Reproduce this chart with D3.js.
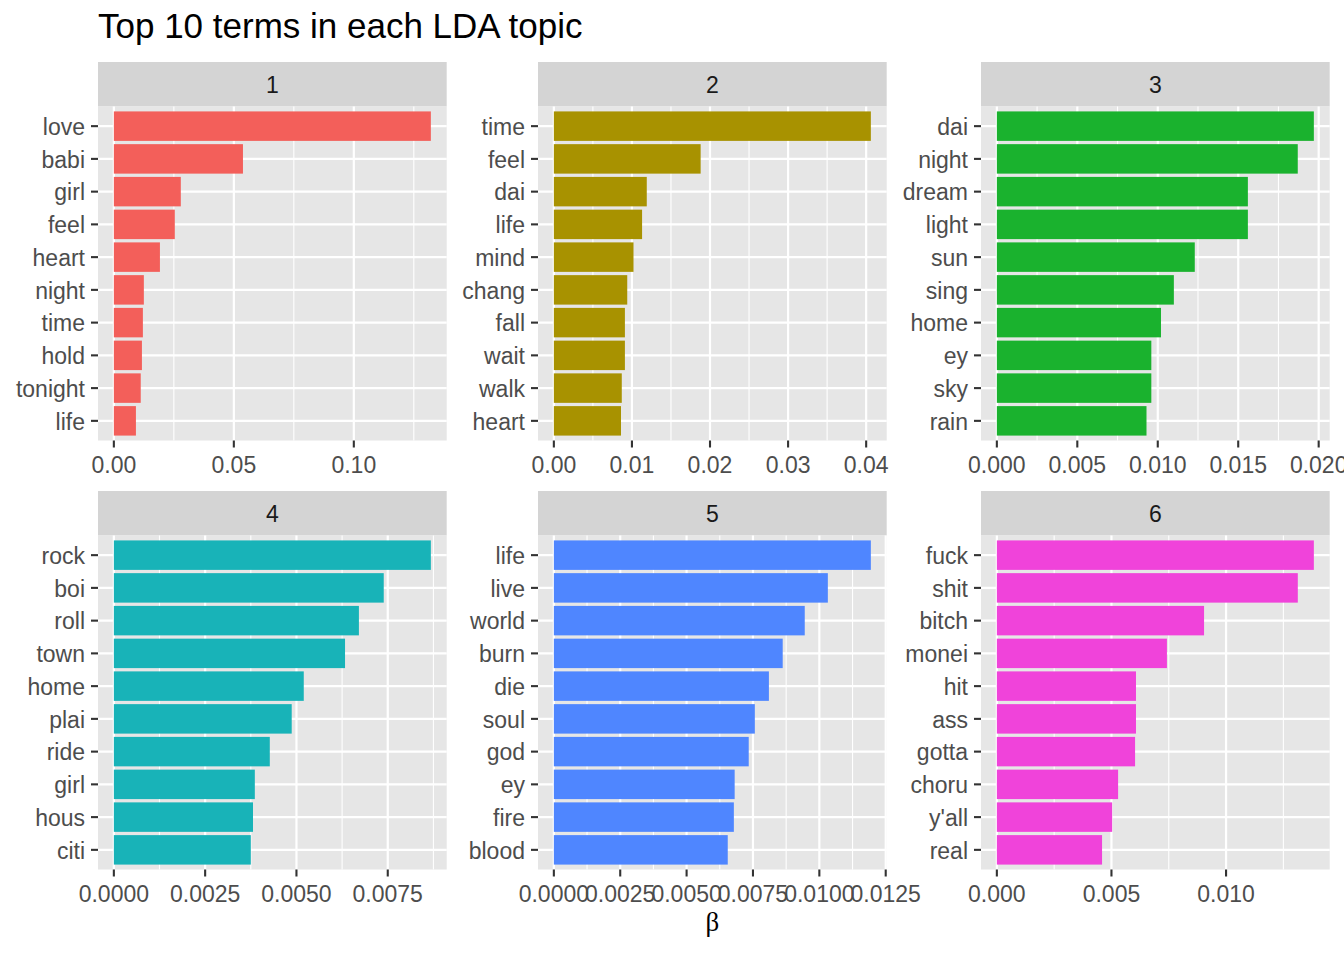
<!DOCTYPE html>
<html>
<head>
<meta charset="utf-8">
<script src="https://cdn.jsdelivr.net/npm/d3@7"></script>
<style>
  body { margin: 0; background: #fff; }
  svg { display: block; font-family: "Liberation Sans", Arial, sans-serif; }
  .tick-label { fill: #4d4d4d; font-size: 23px; }
  .strip-label { fill: #1a1a1a; font-size: 23px; }
</style>
</head>
<body>
<div id="chart"></div>
<script>
// --------------------------------------------------
// 1. Data: one list of terms and betas per topic
// --------------------------------------------------
const topics = ["1", "2", "3", "4", "5", "6"];

const terms1 = ["love", "babi", "girl", "feel", "heart", "night", "time", "hold", "tonight", "life"];
const beta1 = [0.1321, 0.0538, 0.0279, 0.0254, 0.0192, 0.0125, 0.0121, 0.0117, 0.0112, 0.0092];

const terms2 = ["time", "feel", "dai", "life", "mind", "chang", "fall", "wait", "walk", "heart"];
const beta2 = [0.0406, 0.0188, 0.0119, 0.0113, 0.0102, 0.0094, 0.0091, 0.0091, 0.0087, 0.0086];

const terms3 = ["dai", "night", "dream", "light", "sun", "sing", "home", "ey", "sky", "rain"];
const beta3 = [0.0197, 0.0187, 0.0156, 0.0156, 0.0123, 0.0110, 0.0102, 0.0096, 0.0096, 0.0093];

const terms4 = ["rock", "boi", "roll", "town", "home", "plai", "ride", "girl", "hous", "citi"];
const beta4 = [0.00868, 0.00739, 0.00671, 0.00633, 0.00520, 0.00487, 0.00427, 0.00386, 0.00381, 0.00375];

const terms5 = ["life", "live", "world", "burn", "die", "soul", "god", "ey", "fire", "blood"];
const beta5 = [0.01194, 0.01032, 0.00945, 0.00862, 0.00810, 0.00757, 0.00734, 0.00681, 0.00678, 0.00655];

const terms6 = ["fuck", "shit", "bitch", "monei", "hit", "ass", "gotta", "choru", "y'all", "real"];
const beta6 = [0.01383, 0.01313, 0.00904, 0.00742, 0.00607, 0.00607, 0.00603, 0.00529, 0.00503, 0.00459];

// x-axis breaks and their labels for each panel
const ticks1 = [0, 0.05, 0.10];
const tickLabels1 = ["0.00", "0.05", "0.10"];
const ticks2 = [0, 0.01, 0.02, 0.03, 0.04];
const tickLabels2 = ["0.00", "0.01", "0.02", "0.03", "0.04"];
const ticks3 = [0, 0.005, 0.010, 0.015, 0.020];
const tickLabels3 = ["0.000", "0.005", "0.010", "0.015", "0.020"];
const ticks4 = [0, 0.0025, 0.0050, 0.0075];
const tickLabels4 = ["0.0000", "0.0025", "0.0050", "0.0075"];
const ticks5 = [0, 0.0025, 0.0050, 0.0075, 0.0100, 0.0125];
const tickLabels5 = ["0.0000", "0.0025", "0.0050", "0.0075", "0.0100", "0.0125"];
const ticks6 = [0, 0.005, 0.010];
const tickLabels6 = ["0.000", "0.005", "0.010"];

const topicColors = ["#f35f5a", "#a89200", "#1ab22e", "#18b3b8", "#4f86ff", "#f043da"];

const panels = [
  { topic: topics[0], terms: terms1, beta: beta1, ticks: ticks1, labels: tickLabels1 },
  { topic: topics[1], terms: terms2, beta: beta2, ticks: ticks2, labels: tickLabels2 },
  { topic: topics[2], terms: terms3, beta: beta3, ticks: ticks3, labels: tickLabels3 },
  { topic: topics[3], terms: terms4, beta: beta4, ticks: ticks4, labels: tickLabels4 },
  { topic: topics[4], terms: terms5, beta: beta5, ticks: ticks5, labels: tickLabels5 },
  { topic: topics[5], terms: terms6, beta: beta6, ticks: ticks6, labels: tickLabels6 }
];

// --------------------------------------------------
// 2. Layout
// --------------------------------------------------
const width = 1344;
const height = 960;
const colX = [98, 538, 981];
const rowY = [62, 491];
const panelW = 348.7;
const stripH = 44.5;
const panelH = 334;

const svg = d3.select("#chart")
  .append("svg")
  .attr("width", width)
  .attr("height", height);

// title
svg.append("text")
  .attr("x", 98)
  .attr("y", 38)
  .attr("font-size", 35)
  .attr("fill", "#000")
  .text("Top 10 terms in each LDA topic");

// --------------------------------------------------
// 3. Draw each facet
// --------------------------------------------------
panels.forEach((p, i) => {
  const x0 = colX[i % 3];
  const y0 = rowY[Math.floor(i / 3)];
  const top = y0 + stripH;

  const g = svg.append("g");

  // strip
  g.append("rect")
    .attr("x", x0).attr("y", y0)
    .attr("width", panelW).attr("height", stripH)
    .attr("fill", "#d4d4d4");
  g.append("text")
    .attr("class", "strip-label")
    .attr("x", x0 + panelW / 2)
    .attr("y", y0 + stripH / 2)
    .attr("dy", "0.36em")
    .attr("text-anchor", "middle")
    .text(p.topic);

  // panel background
  g.append("rect")
    .attr("x", x0).attr("y", top)
    .attr("width", panelW).attr("height", panelH)
    .attr("fill", "#e6e6e6");

  // scales (ggplot style 5% expansion)
  const maxB = d3.max(p.beta);
  const x = d3.scaleLinear()
    .domain([-0.05 * maxB, 1.05 * maxB])
    .range([x0, x0 + panelW]);

  const y = d3.scaleBand()
    .domain(p.terms)
    .range([top, top + panelH])
    .paddingInner(0.1)
    .paddingOuter(0.15);

  // minor grid: halfway between breaks, plus one beyond if inside
  const step = p.ticks[1] - p.ticks[0];
  const minor = [];
  for (let k = 0; k < p.ticks.length; k++) {
    const m = p.ticks[k] + step / 2;
    if (m <= x.domain()[1]) minor.push(m);
  }
  g.selectAll(".minor")
    .data(minor)
    .enter()
    .append("line")
    .attr("x1", d => x(d)).attr("x2", d => x(d))
    .attr("y1", top).attr("y2", top + panelH)
    .attr("stroke", "#fff")
    .attr("stroke-width", 1.1);

  // major grid
  g.selectAll(".vmajor")
    .data(p.ticks)
    .enter()
    .append("line")
    .attr("x1", d => x(d)).attr("x2", d => x(d))
    .attr("y1", top).attr("y2", top + panelH)
    .attr("stroke", "#fff")
    .attr("stroke-width", 2.2);

  g.selectAll(".hmajor")
    .data(p.terms)
    .enter()
    .append("line")
    .attr("x1", x0).attr("x2", x0 + panelW)
    .attr("y1", d => y(d) + y.bandwidth() / 2)
    .attr("y2", d => y(d) + y.bandwidth() / 2)
    .attr("stroke", "#fff")
    .attr("stroke-width", 2.2);

  // bars
  g.selectAll(".bar")
    .data(p.terms.map((t, k) => ({ term: t, beta: p.beta[k] })))
    .enter()
    .append("rect")
    .attr("x", x(0))
    .attr("y", d => y(d.term))
    .attr("width", d => x(d.beta) - x(0))
    .attr("height", y.bandwidth())
    .attr("fill", topicColors[i]);

  // y axis ticks and labels
  g.selectAll(".ytick")
    .data(p.terms)
    .enter()
    .append("line")
    .attr("x1", x0 - 7).attr("x2", x0)
    .attr("y1", d => y(d) + y.bandwidth() / 2)
    .attr("y2", d => y(d) + y.bandwidth() / 2)
    .attr("stroke", "#333")
    .attr("stroke-width", 2.1);

  g.selectAll(".ylab")
    .data(p.terms)
    .enter()
    .append("text")
    .attr("class", "tick-label")
    .attr("x", x0 - 13)
    .attr("y", d => y(d) + y.bandwidth() / 2 + 0.5)
    .attr("dy", "0.36em")
    .attr("text-anchor", "end")
    .text(d => d);

  // x axis ticks and labels
  g.selectAll(".xtick")
    .data(p.ticks)
    .enter()
    .append("line")
    .attr("x1", d => x(d)).attr("x2", d => x(d))
    .attr("y1", top + panelH).attr("y2", top + panelH + 7)
    .attr("stroke", "#333")
    .attr("stroke-width", 2.1);

  g.selectAll(".xlab")
    .data(p.ticks)
    .enter()
    .append("text")
    .attr("class", "tick-label")
    .attr("x", d => x(d))
    .attr("y", top + panelH + 32.5)
    .attr("text-anchor", "middle")
    .text((d, k) => p.labels[k]);
});

// --------------------------------------------------
// 4. Shared x-axis title
// --------------------------------------------------
svg.append("text")
  .attr("x", colX[1] + panelW / 2)
  .attr("y", 931)
  .attr("text-anchor", "middle")
  .attr("font-family", "'Liberation Serif', 'DejaVu Serif', serif")
  .attr("font-size", 27)
  .attr("fill", "#000")
  .text("β");
</script>
</body>
</html>
